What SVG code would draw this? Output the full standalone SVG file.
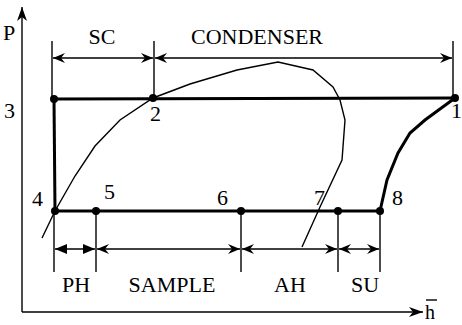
<svg xmlns="http://www.w3.org/2000/svg" width="462" height="325" viewBox="0 0 462 325">
<defs>
<marker id="barb" viewBox="0 0 12 10" refX="12" refY="5" markerWidth="12" markerHeight="10" markerUnits="userSpaceOnUse" orient="auto-start-reverse">
<path d="M0,0 L12,5 L0,10 L4,5 z" fill="#000"/>
</marker>
<marker id="tri" viewBox="0 0 12 10" refX="12" refY="5" markerWidth="12" markerHeight="10" markerUnits="userSpaceOnUse" orient="auto-start-reverse">
<path d="M0,0 L12,5 L0,10 z" fill="#000"/>
</marker>
<marker id="axis" viewBox="0 0 14 10" refX="14" refY="5" markerWidth="14" markerHeight="10" markerUnits="userSpaceOnUse" orient="auto">
<path d="M0,0 L14,5 L0,10 L4,5 z" fill="#000"/>
</marker>
</defs>
<style>
text{font-family:"Liberation Serif","Times New Roman",serif;font-size:22px;fill:#000}
.thin{stroke:#000;stroke-width:1.4;fill:none}
.thick{stroke:#000;stroke-width:3;fill:none}
.dim{stroke:#000;stroke-width:1.4;fill:none;marker-start:url(#barb);marker-end:url(#barb)}
</style>
<g id="axes">
<line class="thin" x1="22" y1="312" x2="22" y2="7" marker-end="url(#axis)"/>
<line class="thin" x1="22" y1="312" x2="423" y2="312" marker-end="url(#axis)"/>
<text x="3" y="40">P</text>
<text x="425" y="319" style="font-size:20px">h</text>
<line class="thin" x1="426" y1="300" x2="437" y2="300"/>
</g>
<g id="dome">
<polyline class="thin" points="42,238 55,211 75,176 95,146 120,120 153,98 190,84 237,70 278,62 313,70 333,87 340,100 345,120 342,160 320,207 302,247"/>
</g>
<g id="connectors">
<line class="thick" x1="54" y1="99" x2="455" y2="98"/>
<line class="thick" x1="54" y1="99" x2="55" y2="211"/>
<line class="thick" x1="55" y1="211" x2="380" y2="211"/>
<polyline class="thick" points="380,211 387,180 398,153 410,133 425,120 455,98"/>
</g>
<g id="dimensions">
<line class="thin" x1="52" y1="41" x2="52" y2="99"/>
<line class="thin" x1="154" y1="41" x2="154" y2="98"/>
<line class="thin" x1="453" y1="41" x2="453" y2="98"/>
<line class="dim" x1="53" y1="58" x2="153" y2="58"/>
<line class="dim" x1="155" y1="58" x2="452" y2="58"/>
<line class="thin" x1="54" y1="211" x2="54" y2="272"/>
<line class="thin" x1="96" y1="211" x2="96" y2="272"/>
<line class="thin" x1="241" y1="211" x2="241" y2="272"/>
<line class="thin" x1="338" y1="211" x2="338" y2="272"/>
<line class="thin" x1="380" y1="211" x2="380" y2="272"/>
<line class="thin" x1="55" y1="249" x2="95" y2="249" marker-start="url(#tri)" marker-end="url(#tri)"/>
<line class="dim" x1="97" y1="249" x2="240" y2="249"/>
<line class="dim" x1="242" y1="249" x2="337" y2="249"/>
<line class="dim" x1="339" y1="249" x2="379" y2="249"/>
<text x="102" y="44" text-anchor="middle">SC</text>
<text x="257" y="44" text-anchor="middle">CONDENSER</text>
<text x="76" y="292" text-anchor="middle">PH</text>
<text x="172" y="292" text-anchor="middle">SAMPLE</text>
<text x="290" y="292" text-anchor="middle">AH</text>
<text x="365" y="292" text-anchor="middle">SU</text>
</g>
<g id="points">
<circle cx="54" cy="99" r="4"/>
<circle cx="153" cy="98" r="4"/>
<circle cx="455" cy="98" r="4"/>
<circle cx="55" cy="211" r="4"/>
<circle cx="96" cy="211" r="4"/>
<circle cx="241" cy="211" r="4"/>
<circle cx="338" cy="211" r="4"/>
<circle cx="380" cy="211" r="4"/>
<text x="4" y="118">3</text>
<text x="150" y="121">2</text>
<text x="451" y="118">1</text>
<text x="32" y="206">4</text>
<text x="104" y="199">5</text>
<text x="217" y="205">6</text>
<text x="314" y="205">7</text>
<text x="392" y="205">8</text>
</g>
</svg>
